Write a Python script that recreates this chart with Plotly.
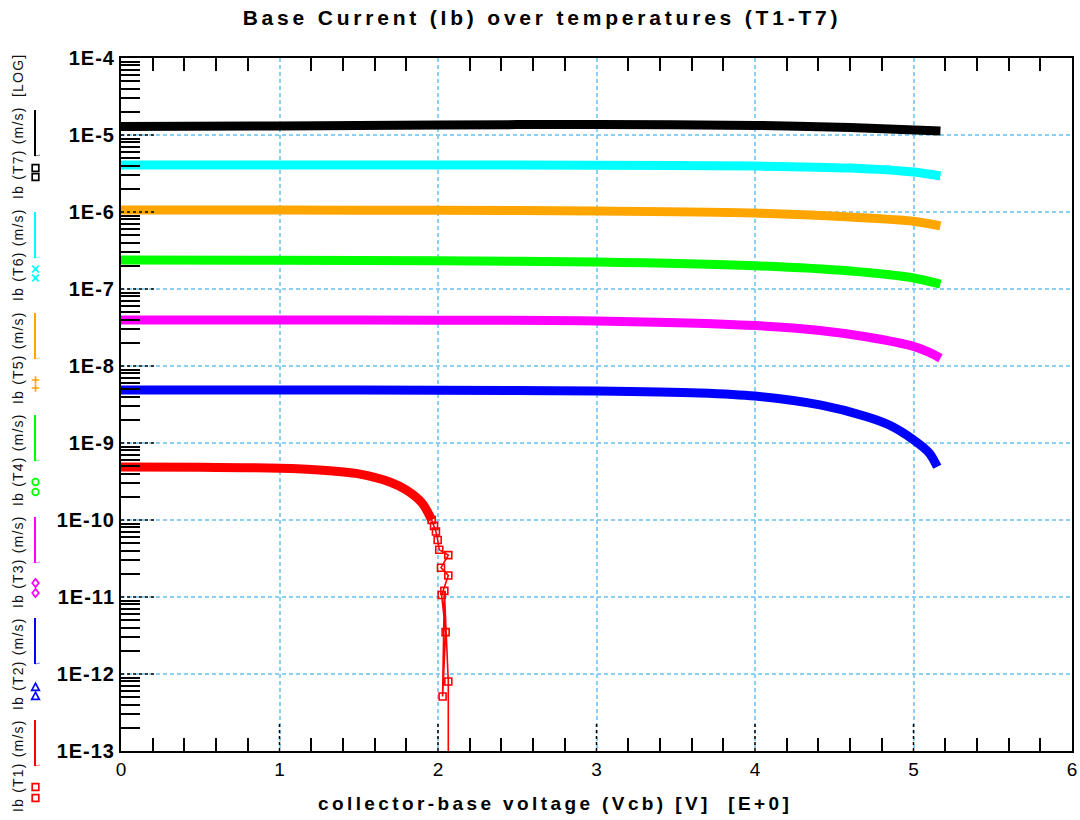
import plotly.graph_objects as go

# ---- measured base current per temperature (Vcb in V, Ib in A) ----
vcb_t7 = [0.0, 1.0, 2.0, 3.0, 4.0, 4.6, 5.17]
ib_t7 = [1.29e-5, 1.31e-5, 1.35e-5, 1.37e-5, 1.33e-5, 1.25e-5, 1.13e-5]

vcb_t6 = [0.0, 1.0, 2.0, 3.0, 4.0, 4.6, 5.0, 5.17]
ib_t6 = [4.07e-6, 4.07e-6, 4.07e-6, 4.05e-6, 3.95e-6, 3.72e-6, 3.3e-6, 2.94e-6]

vcb_t5 = [0.0, 1.0, 2.0, 3.0, 4.0, 4.6, 5.0, 5.17]
ib_t5 = [1.06e-6, 1.06e-6, 1.05e-6, 1.03e-6, 9.7e-7, 8.6e-7, 7.6e-7, 6.6e-7]

vcb_t4 = [0.0, 1.0, 2.0, 3.0, 4.0, 4.6, 5.0, 5.17]
ib_t4 = [2.38e-7, 2.36e-7, 2.32e-7, 2.24e-7, 2.0e-7, 1.71e-7, 1.39e-7, 1.16e-7]

vcb_t3 = [0.0, 1.0, 2.0, 3.0, 4.0, 4.41, 4.7, 5.0, 5.1, 5.17]
ib_t3 = [3.95e-8, 3.95e-8, 3.93e-8, 3.85e-8, 3.35e-8, 2.9e-8, 2.4e-8, 1.8e-8,
         1.5e-8, 1.26e-8]

vcb_t2 = [0.0, 1.0, 2.0, 3.0, 3.65, 4.0, 4.41, 4.7, 4.85, 5.0, 5.1, 5.15]
ib_t2 = [4.88e-9, 4.88e-9, 4.85e-9, 4.75e-9, 4.47e-9, 4.07e-9, 3.12e-9, 2.21e-9,
         1.7e-9, 1.1e-9, 7.4e-10, 4.9e-10]

vcb_t1 = [0.0, 0.5, 1.0, 1.25, 1.5, 1.7, 1.8, 1.9, 1.96]
ib_t1 = [4.88e-10, 4.85e-10, 4.7e-10, 4.47e-10, 3.98e-10, 3.1e-10, 2.45e-10,
         1.66e-10, 1.0e-10]

# breakdown region of T1, where the measurement becomes noisy
vcb_t1_tail = [1.96, 1.975, 1.987, 1.998, 2.008, 2.065, 2.019, 2.065, 2.023,
               2.048, 2.029, 2.04, 2.065, 2.065]
ib_t1_tail = [1.0e-10, 8.4e-11, 7.1e-11, 5.5e-11, 4.1e-11, 3.5e-11, 2.4e-11,
              1.9e-11, 1.06e-11, 3.5e-12, 5.1e-13, 1.2e-11, 8e-13, 1e-14]

series = [
    ("T1", vcb_t1, ib_t1, "#FF0000", "square"),
    ("T2", vcb_t2, ib_t2, "#0000FF", "triangle"),
    ("T3", vcb_t3, ib_t3, "#FF00FF", "diamond"),
    ("T4", vcb_t4, ib_t4, "#00FF00", "circle"),
    ("T5", vcb_t5, ib_t5, "#FFA500", "plus"),
    ("T6", vcb_t6, ib_t6, "#00FFFF", "cross"),
    ("T7", vcb_t7, ib_t7, "#000000", "square"),
]

x_major = [0, 1, 2, 3, 4, 5, 6]
x_minor = [round(i * 0.2, 1) for i in range(31) if i % 5 != 0]
y_exps = list(range(-13, -3))
y_major = [10.0 ** e for e in y_exps]
y_labels = ["1E%d" % e for e in y_exps]
y_minor = [m * 10.0 ** e for e in y_exps[:-1] for m in range(2, 10)]

# plot-area pixel frame, used to place the side legend
PX_L, PX_R, PX_T, PX_B = 121, 1072, 58, 751


def pxx(p):
    return (p - PX_L) / (PX_R - PX_L)


def pxy(p):
    return (PX_B - p) / (PX_B - PX_T)


def spaced(text, px):
    return '<span style="letter-spacing:%spx">%s</span>' % (px, text)


GRID = "#8CCFF5"
FONT = "Liberation Sans, Arial, sans-serif"

fig = go.Figure()

for name, xs, ys, col, sym in reversed(series):
    fig.add_trace(go.Scatter(
        x=xs, y=ys, mode="lines", name="Ib (%s)" % name,
        line=dict(color=col, width=9, shape="spline", smoothing=0.8),
        showlegend=False,
    ))

fig.add_trace(go.Scatter(
    x=vcb_t1_tail, y=ib_t1_tail, mode="lines+markers", name="Ib (T1) tail",
    line=dict(color="#FF0000", width=1.6),
    marker=dict(symbol="square-open", size=7, color="#FF0000",
                line=dict(width=1.6, color="#FF0000")),
    showlegend=False,
))

# side legend: rotated labels, line sample and marker pair per series
leg_line_top = [720, 618, 517, 415, 313, 212, 110]
leg_mark_y = [(787, 798), (687, 696), (583, 593), (482, 492),
              (380, 388), (269, 278), (168, 177)]
leg_text_y = [766, 664, 562, 460, 358, 255, 153]
LEG_X = 35
MS = 3.3  # half marker size in px


def marker_shapes(kind, cx, cy, col):
    out = []
    base = dict(xref="paper", yref="paper", line=dict(color=col, width=1.7))
    if kind == "square":
        out.append(dict(type="rect", x0=pxx(cx - MS), x1=pxx(cx + MS),
                        y0=pxy(cy - MS), y1=pxy(cy + MS), **base))
    elif kind == "circle":
        out.append(dict(type="circle", x0=pxx(cx - MS), x1=pxx(cx + MS),
                        y0=pxy(cy - MS), y1=pxy(cy + MS), **base))
    else:
        if kind == "triangle":
            pts = [(cx, cy - MS - 0.5), (cx + MS + 0.5, cy + MS), (cx - MS - 0.5, cy + MS)]
            path = "M" + " L".join("%f,%f" % (pxx(a), pxy(b)) for a, b in pts) + " Z"
        elif kind == "diamond":
            pts = [(cx, cy - MS - 0.8), (cx + MS, cy), (cx, cy + MS + 0.8), (cx - MS, cy)]
            path = "M" + " L".join("%f,%f" % (pxx(a), pxy(b)) for a, b in pts) + " Z"
        elif kind == "plus":
            path = "M%f,%f L%f,%f M%f,%f L%f,%f" % (
                pxx(cx - MS - 0.5), pxy(cy), pxx(cx + MS + 0.5), pxy(cy),
                pxx(cx), pxy(cy - MS - 0.5), pxx(cx), pxy(cy + MS + 0.5))
        else:
            path = "M%f,%f L%f,%f M%f,%f L%f,%f" % (
                pxx(cx - MS), pxy(cy - MS), pxx(cx + MS), pxy(cy + MS),
                pxx(cx - MS), pxy(cy + MS), pxx(cx + MS), pxy(cy - MS))
        out.append(dict(type="path", path=path, **base))
    return out


shapes = []
annotations = []
for i, (name, xs, ys, col, sym) in enumerate(series):
    top = leg_line_top[i]
    bot = top + 46
    shapes.append(dict(type="line", xref="paper", yref="paper",
                       x0=pxx(LEG_X), x1=pxx(LEG_X), y0=pxy(top), y1=pxy(bot),
                       line=dict(color=col, width=2)))
    shapes.append(dict(type="line", xref="paper", yref="paper",
                       x0=pxx(LEG_X), x1=pxx(LEG_X + 5), y0=pxy(bot), y1=pxy(bot - 1),
                       line=dict(color=col, width=1), opacity=0.5))
    for yy in leg_mark_y[i]:
        shapes.extend(marker_shapes(sym, LEG_X + 0.5, yy, col))
    annotations.append(dict(text=spaced("Ib (%s) (m/s)" % name, 1.2),
                            xref="paper", yref="paper",
                            x=pxx(18), y=pxy(leg_text_y[i]), textangle=-90,
                            showarrow=False, xanchor="center", yanchor="middle",
                            font=dict(family=FONT, size=14, color="#111111")))
annotations.append(dict(text=spaced("[LOG]", 1.2), xref="paper", yref="paper",
                        x=pxx(18), y=pxy(76), textangle=-90, showarrow=False,
                        xanchor="center", yanchor="middle",
                        font=dict(family=FONT, size=14, color="#111111")))

# x-axis caption
annotations.append(dict(text=spaced("collector-base voltage (Vcb) [V]  [E+0]", 3.4),
                        xref="paper", yref="paper", x=pxx(555), y=pxy(803),
                        showarrow=False, xanchor="center", yanchor="middle",
                        font=dict(family=FONT, size=19, color="black", weight="bold")))

# dotted black stubs at the major ticks
for v in y_major[1:-1]:
    shapes.append(dict(type="line", xref="paper", yref="y", x0=0, x1=pxx(157),
                       y0=v, y1=v, line=dict(color="black", width=1.5, dash="dot")))
for v in x_major[1:-1]:
    shapes.append(dict(type="line", xref="x", yref="paper", x0=v, x1=v,
                       y0=0, y1=pxy(723), line=dict(color="black", width=1.5, dash="dot")))

fig.update_layout(
    width=1080, height=820,
    margin=dict(l=PX_L, r=1080 - PX_R, t=PX_T, b=820 - PX_B, autoexpand=False),
    paper_bgcolor="white", plot_bgcolor="white",
    title=dict(text=spaced("Base Current (Ib) over temperatures (T1-T7)", 3.8),
               x=pxx(542), xanchor="center", xref="paper", y=0.978, yanchor="middle",
               font=dict(family=FONT, size=21, color="black", weight="bold")),
    xaxis=dict(
        range=[0, 6], tickmode="array", tickvals=x_major, automargin=False,
        ticks="", showline=True, linecolor="black", linewidth=2, mirror="allticks",
        showgrid=True, gridcolor=GRID, gridwidth=1.6, griddash="4px,3px",
        zeroline=False,
        tickfont=dict(family=FONT, size=19, color="black"),
        minor=dict(tickmode="array", tickvals=x_minor, ticks="inside",
                   ticklen=13, tickwidth=2, tickcolor="black", showgrid=False),
    ),
    yaxis=dict(
        type="log", range=[-13, -4], tickmode="array", tickvals=y_major,
        ticktext=[spaced(t, 1) for t in y_labels], ticks="", showline=True,
        linecolor="black", linewidth=2,
        mirror=True, showgrid=True, gridcolor=GRID, gridwidth=1.6, automargin=False,
        griddash="4px,3px", zeroline=False,
        tickfont=dict(family=FONT, size=20, color="black", weight="bold"),
        minor=dict(tickmode="array", tickvals=y_minor, ticks="inside",
                   ticklen=19, tickwidth=2, tickcolor="black", showgrid=False),
    ),
    shapes=shapes,
    annotations=annotations,
    showlegend=False,
)

fig.write_html("out.html")
